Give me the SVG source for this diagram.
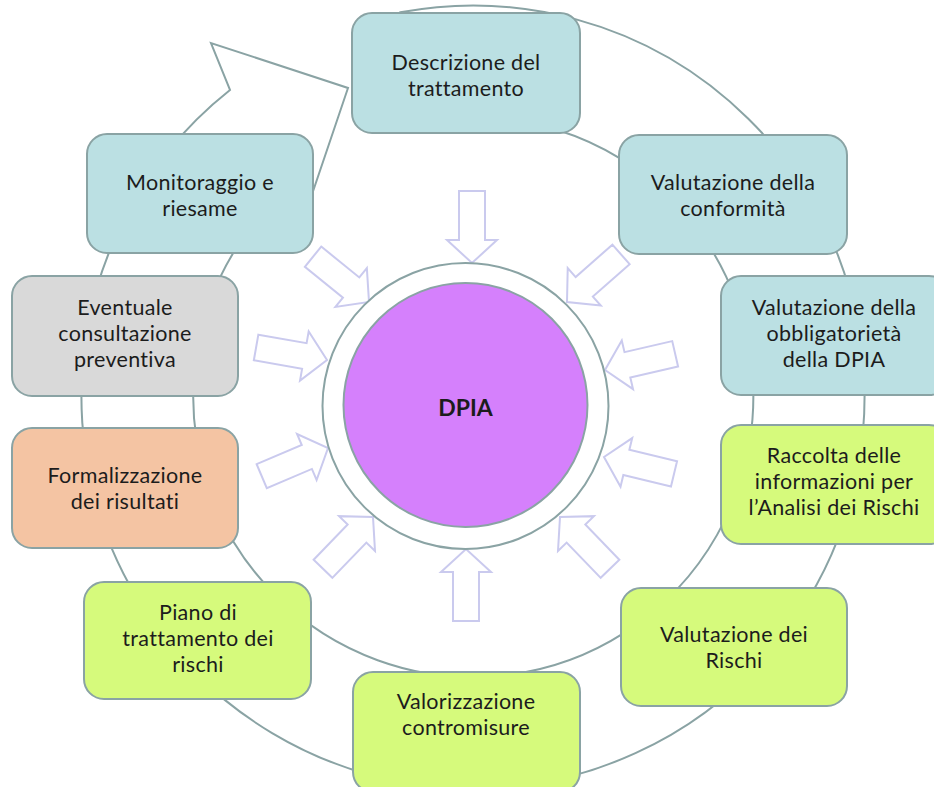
<svg xmlns="http://www.w3.org/2000/svg" xmlns:xlink="http://www.w3.org/1999/xlink" width="934" height="787" viewBox="0 0 934 787">
<style>
.box{stroke:#8AA3A4;stroke-width:2}
.blue{fill:#BBE0E3}
.green{fill:#D6FA7C}
.gray{fill:#D9D9D9}
.orange{fill:#F4C4A3}
.ring{fill:none;stroke:#8AA3A4;stroke-width:2;stroke-linejoin:miter}
.arr{fill:#FFFFFF;stroke:#CACAEE;stroke-width:2;stroke-linejoin:miter}
text{font-family:Lato,"Open Sans","Liberation Sans",sans-serif;font-size:21.5px;letter-spacing:0.3px;fill:#1C1C1C;text-anchor:middle}
.bold{font-weight:bold;font-size:23px;letter-spacing:0}
</style>
<defs>
<path id="ar" d="M-72,-13 H-23 V-25 L0,0 L-23,25 V13 H-72 Z"/>
</defs>
<rect width="934" height="787" fill="#FFFFFF"/>
<g id="connectors">
<path class="ring" d="M400.3,12.3 A391.5,391.5 0 1 1 230,90 L211,43 L348,88 L306,212 L245,235 A280,280 0 1 0 421,122 Z"/>
<g class="arr">
<use xlink:href="#ar" href="#ar" transform="translate(472,263) rotate(90)"/>
<use xlink:href="#ar" href="#ar" transform="translate(369,302) rotate(39)"/>
<use xlink:href="#ar" href="#ar" transform="translate(327,360) rotate(10)"/>
<use xlink:href="#ar" href="#ar" transform="translate(328,448) rotate(-23)"/>
<use xlink:href="#ar" href="#ar" transform="translate(373,517) rotate(-46)"/>
<use xlink:href="#ar" href="#ar" transform="translate(466,549) rotate(-90)"/>
<use xlink:href="#ar" href="#ar" transform="translate(560,517) rotate(-134)"/>
<use xlink:href="#ar" href="#ar" transform="translate(604,457) rotate(-166.5)"/>
<use xlink:href="#ar" href="#ar" transform="translate(605,370) rotate(167)"/>
<use xlink:href="#ar" href="#ar" transform="translate(567,302) rotate(138.6)"/>
</g>
</g>
<g id="dpia">
<circle cx="465.5" cy="406" r="143" fill="#FFFFFF" stroke="#8AA3A4" stroke-width="2"/>
<circle cx="465.5" cy="405" r="122" fill="#D580FC" stroke="#8AA3A4" stroke-width="2"/>
<text class="bold" x="465.5" y="416">DPIA</text>
</g>
<g id="n1">
<rect class="box blue" x="352" y="13" width="228" height="120" rx="20"/>
<text x="466" y="70">Descrizione del</text>
<text x="466" y="96">trattamento</text>
</g>
<g id="n2">
<rect class="box blue" x="619" y="135" width="228" height="119" rx="20"/>
<text x="733" y="190">Valutazione della</text>
<text x="733" y="216">conformità</text>
</g>
<g id="n3">
<rect class="box blue" x="721" y="276" width="228" height="119" rx="20"/>
<text x="834" y="315">Valutazione della</text>
<text x="834" y="341">obbligatorietà</text>
<text x="834" y="367">della DPIA</text>
</g>
<g id="n4">
<rect class="box green" x="721" y="425" width="228" height="119" rx="20"/>
<text x="834" y="463">Raccolta delle</text>
<text x="834" y="489">informazioni per</text>
<text x="834" y="515">l’Analisi dei Rischi</text>
</g>
<g id="n5">
<rect class="box green" x="621" y="588" width="226" height="118" rx="20"/>
<text x="734" y="642">Valutazione dei</text>
<text x="734" y="668">Rischi</text>
</g>
<g id="n6">
<rect class="box green" x="353" y="672" width="227" height="120" rx="20"/>
<text x="466" y="709">Valorizzazione</text>
<text x="466" y="735">contromisure</text>
</g>
<g id="n7">
<rect class="box green" x="84" y="582" width="227" height="117" rx="20"/>
<text x="198" y="620">Piano di</text>
<text x="198" y="646">trattamento dei</text>
<text x="198" y="672">rischi</text>
</g>
<g id="n8">
<rect class="box orange" x="12" y="428" width="226" height="120" rx="20"/>
<text x="125" y="483">Formalizzazione</text>
<text x="125" y="509">dei risultati</text>
</g>
<g id="n9">
<rect class="box gray" x="12" y="276" width="226" height="120" rx="20"/>
<text x="125" y="315">Eventuale</text>
<text x="125" y="341">consultazione</text>
<text x="125" y="367">preventiva</text>
</g>
<g id="n10">
<rect class="box blue" x="87" y="134" width="226" height="119" rx="20"/>
<text x="200" y="190">Monitoraggio e</text>
<text x="200" y="216">riesame</text>
</g>
</svg>
